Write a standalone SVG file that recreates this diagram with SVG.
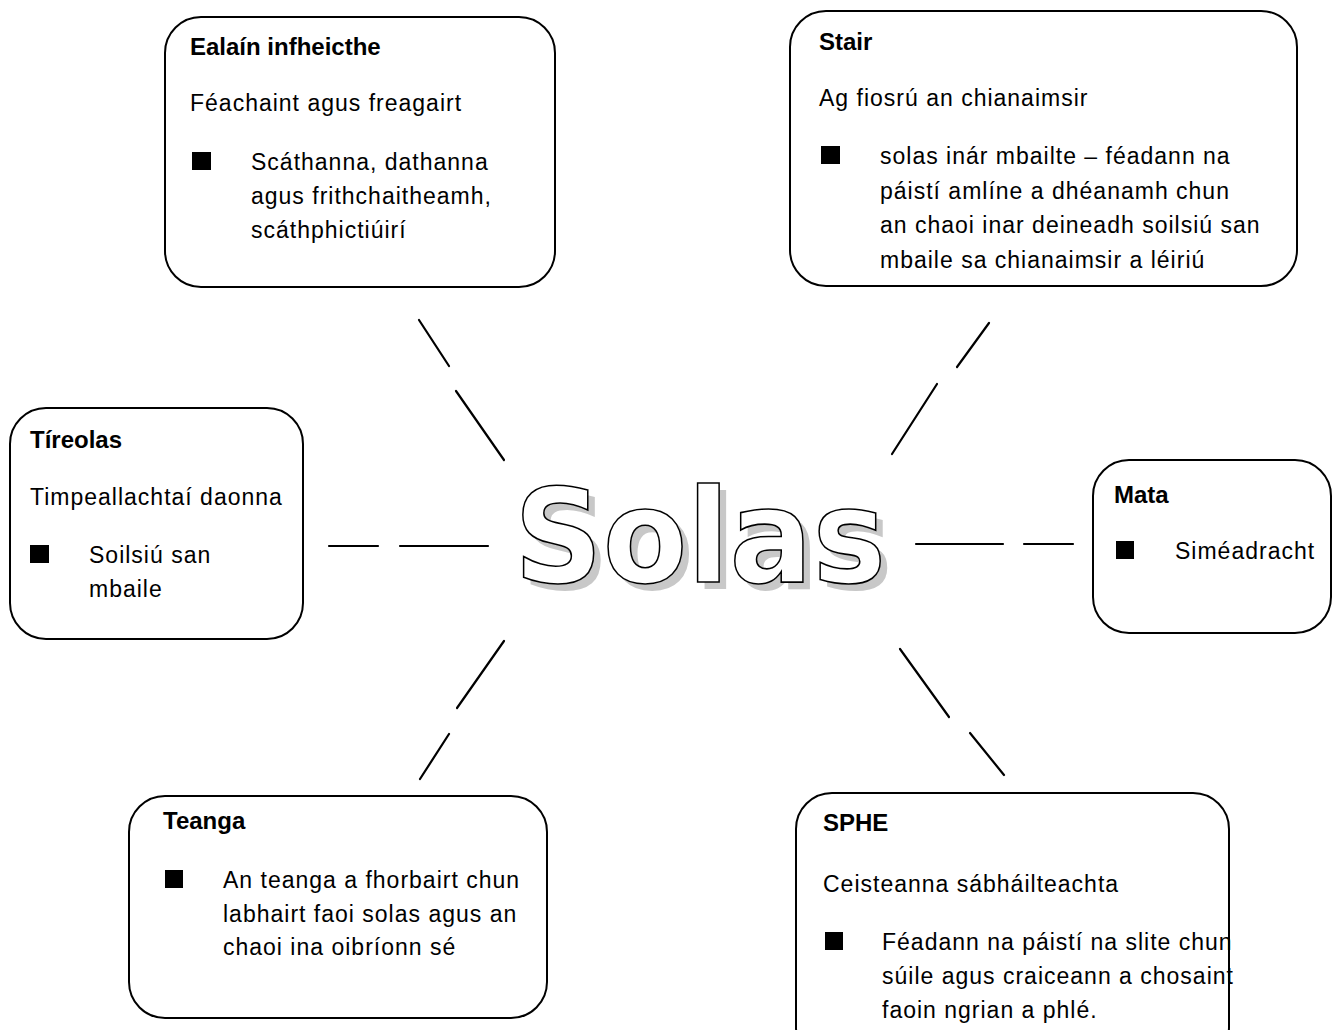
<svg xmlns="http://www.w3.org/2000/svg" width="1332" height="1030" viewBox="0 0 1332 1030">
<style>
.box{fill:#fff;stroke:#000;stroke-width:2}
.h{font-family:"Liberation Sans",Arial,sans-serif;font-weight:bold;font-size:24px;fill:#000}
.t{font-family:"Liberation Sans",Arial,sans-serif;font-size:23px;letter-spacing:1px;fill:#000}
.b{fill:#000}
.c line{stroke:#000;stroke-width:2.2;stroke-linecap:round}
.big{font-family:"DejaVu Sans",Verdana,sans-serif;font-weight:bold;font-size:130px}
</style>
<rect width="1332" height="1030" fill="#fff"/>
<g class="c" id="connectors">
<line x1="419" y1="320" x2="449" y2="366"/><line x1="456" y1="391" x2="504" y2="460"/>
<line x1="989" y1="323" x2="957" y2="367"/><line x1="937" y1="384" x2="892" y2="454"/>
<line x1="329" y1="546" x2="378" y2="546"/><line x1="400" y1="546" x2="488" y2="546"/>
<line x1="916" y1="544" x2="1003" y2="544"/><line x1="1024" y1="544" x2="1073" y2="544"/>
<line x1="504" y1="641" x2="457" y2="708"/><line x1="449" y1="734" x2="420" y2="779"/>
<line x1="900" y1="649" x2="949" y2="717"/><line x1="970" y1="733" x2="1004" y2="775"/>
</g>
<g id="center">
<text class="big" x="707" y="589" text-anchor="middle" textLength="372" lengthAdjust="spacingAndGlyphs" fill="#c8c8c8">Solas</text>
<text class="big" x="700" y="582" text-anchor="middle" textLength="372" lengthAdjust="spacingAndGlyphs" fill="#fff" stroke="#000" stroke-width="1.6">Solas</text>
</g>
<g id="ealain">
<rect class="box" x="165" y="17" width="390" height="270" rx="36"/>
<text class="h" x="190" y="55">Ealaín infheicthe</text>
<text class="t" x="190" y="111">Féachaint agus freagairt</text>
<rect class="b" x="192" y="152" width="19" height="18"/>
<text class="t" x="251" y="170">Scáthanna, dathanna</text>
<text class="t" x="251" y="204">agus frithchaitheamh,</text>
<text class="t" x="251" y="238">scáthphictiúirí</text>
</g>
<g id="stair">
<rect class="box" x="790" y="11" width="507" height="275" rx="36"/>
<text class="h" x="819" y="50">Stair</text>
<text class="t" x="819" y="106">Ag fiosrú an chianaimsir</text>
<rect class="b" x="821" y="146" width="19" height="18"/>
<text class="t" x="880" y="164">solas inár mbailte – féadann na</text>
<text class="t" x="880" y="198.5">páistí amlíne a dhéanamh chun</text>
<text class="t" x="880" y="233">an chaoi inar deineadh soilsiú san</text>
<text class="t" x="880" y="267.5">mbaile sa chianaimsir a léiriú</text>
</g>
<g id="tireolas">
<rect class="box" x="10" y="408" width="293" height="231" rx="36"/>
<text class="h" x="30" y="448">Tíreolas</text>
<text class="t" x="30" y="505">Timpeallachtaí daonna</text>
<rect class="b" x="30" y="545" width="19" height="18"/>
<text class="t" x="89" y="563">Soilsiú san</text>
<text class="t" x="89" y="597">mbaile</text>
</g>
<g id="mata">
<rect class="box" x="1093" y="460" width="238" height="173" rx="36"/>
<text class="h" x="1114" y="503">Mata</text>
<rect class="b" x="1116" y="541" width="18" height="18"/>
<text class="t" x="1175" y="559">Siméadracht</text>
</g>
<g id="teanga">
<rect class="box" x="129" y="796" width="418" height="222" rx="36"/>
<text class="h" x="163" y="829">Teanga</text>
<rect class="b" x="165" y="870" width="18" height="18"/>
<text class="t" x="223" y="888">An teanga a fhorbairt chun</text>
<text class="t" x="223" y="921.5">labhairt faoi solas agus an</text>
<text class="t" x="223" y="955">chaoi ina oibríonn sé</text>
</g>
<g id="sphe">
<rect class="box" x="796" y="793" width="433" height="270" rx="36"/>
<text class="h" x="823" y="831">SPHE</text>
<text class="t" x="823" y="892">Ceisteanna sábháilteachta</text>
<rect class="b" x="825" y="932" width="18" height="18"/>
<text class="t" x="882" y="950">Féadann na páistí na slite chun</text>
<text class="t" x="882" y="984">súile agus craiceann a chosaint</text>
<text class="t" x="882" y="1018">faoin ngrian a phlé.</text>
</g>
</svg>
